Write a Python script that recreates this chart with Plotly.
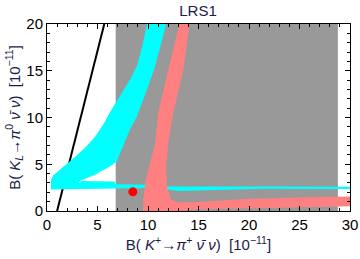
import plotly.graph_objects as go

# ---- data (units of 1e-11) ----
gray_x = [6.8, 28.8, 28.8, 6.8]
gray_y = [0, 0, 20, 20]

gn_x = [1.0, 5.67]          # black bound line
gn_y = [0.0, 20.0]

cyan_band_x = [0.4, 0.4, 0.6, 1.1, 1.8, 2.8, 3.8, 4.8, 5.6, 6.2, 7.3, 8.3, 8.9, 9.4, 9.9,
               11.8, 11.2, 10.6, 9.8, 8.9, 8.2, 7.4, 6.9, 6.3, 5.5, 4.7, 3.4, 3.0, 0.4]
cyan_band_y = [2.4, 3.3, 3.8, 4.3, 4.9, 5.8, 6.8, 8.0, 9.3, 10.5, 12.5, 14.2, 15.5, 17.5, 20,
               20, 17.5, 15.1, 12.7, 10.1, 8.7, 6.5, 5.3, 4.8, 4.3, 3.85, 3.3, 2.9, 2.4]

cyan_strip_x = [0.4, 0.4, 3.3, 3.3, 6.7, 6.8, 10.0, 12.0, 22.5, 30, 30, 21.4, 13.0, 12.0, 10.0, 6.8, 3.3, 0.4]
cyan_strip_y = [2.3, 3.0, 3.0, 3.2, 3.15, 2.85, 2.8, 2.62, 2.62, 2.6, 2.35, 2.38, 2.15, 2.3, 2.45, 2.4, 2.32, 2.3]

red_x = [9.5, 9.55, 9.85, 10.7, 11.0, 12.0, 13.1,
         14.1, 13.5, 12.5, 12.0, 11.8, 11.9, 12.3, 13.0, 15, 20, 25, 30,
         30, 25, 20, 15, 12.8, 9.5]
red_y = [0.0, 1.5, 3.7, 7.2, 10.5, 15.1, 20,
         20, 15.1, 10.5, 7.2, 4.7, 2.5, 1.2, 0.9, 0.95, 1.3, 1.45, 1.55,
         0.5, 0.4, 0.3, 0.15, 0.0, 0.0]

sm_x = [8.5]
sm_y = [2.05]

navy = "#1c1c4a"
FONT = "Liberation Sans, Arial, sans-serif"

fig = go.Figure()
fig.add_trace(go.Scatter(x=gray_x, y=gray_y, fill="toself", fillcolor="#999999",
                         line=dict(width=0), mode="lines", hoverinfo="skip"))
fig.add_trace(go.Scatter(x=gn_x, y=gn_y, mode="lines", line=dict(color="black", width=2)))
fig.add_trace(go.Scatter(x=cyan_band_x, y=cyan_band_y, fill="toself", fillcolor="#00ffff",
                         line=dict(width=0), mode="lines"))
fig.add_trace(go.Scatter(x=cyan_strip_x, y=cyan_strip_y, fill="toself", fillcolor="#00ffff",
                         line=dict(width=0), mode="lines"))
fig.add_trace(go.Scatter(x=red_x, y=red_y, fill="toself", fillcolor="#ff8080",
                         line=dict(width=0), mode="lines"))
fig.add_trace(go.Scatter(x=sm_x, y=sm_y, mode="markers",
                         marker=dict(color="#ff0000", size=9)))

axis_common = dict(
    showgrid=False, zeroline=False, showline=True, linecolor="black", linewidth=1,
    mirror="allticks", ticks="inside", ticklen=5, tickcolor="black", tickwidth=1,
    tickfont=dict(family=FONT, size=15, color="black"),
    minor=dict(ticks="inside", ticklen=3, tickcolor="black", dtick=1),
    automargin=False,
)

fig.update_xaxes(range=[0, 30], dtick=5, tick0=0, **axis_common,
                 title=dict(text="B( <i>K</i><sup>+</sup>→<i>π</i><sup>+</sup> <i>ν̄</i> <i>ν</i>)  [10<sup>−11</sup>]",
                            font=dict(family=FONT, size=15, color=navy),
                            standoff=7))
fig.update_yaxes(range=[0, 20], dtick=5, tick0=0, **axis_common,
                 title=dict(text="B( <i>K<sub>L</sub></i>→<i>π</i><sup>0</sup> <i>ν̄</i> <i>ν</i>)  [10<sup>−11</sup>]",
                            font=dict(family=FONT, size=15, color=navy),
                            standoff=2))

fig.update_layout(
    width=360, height=259,
    margin=dict(l=47, r=10, t=24, b=48, autoexpand=False),
    plot_bgcolor="white", paper_bgcolor="white",
    showlegend=False,
    title=dict(text="LRS1", x=0.55, xanchor="center", y=0.96, yanchor="middle",
               font=dict(family=FONT, size=15, color=navy)),
)

fig.write_html("out.html", config={"displayModeBar": False},
               post_script="document.body.style.margin='0';document.body.style.overflow='hidden';")
